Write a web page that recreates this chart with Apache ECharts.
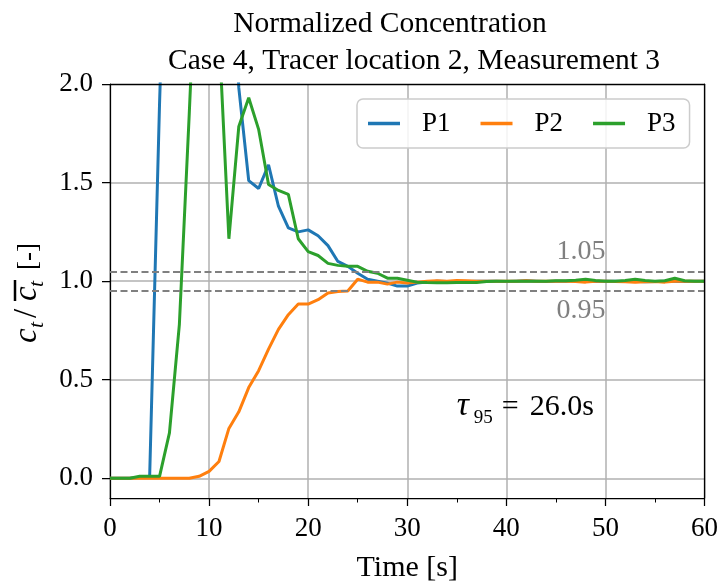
<!DOCTYPE html>
<html>
<head>
<meta charset="utf-8">
<script src="https://cdn.jsdelivr.net/npm/echarts@6/dist/echarts.min.js"></script>
<style>html,body{margin:0;padding:0;background:#fff;}#c{width:721px;height:588px;}</style>
</head>
<body>
<div id="c"></div>
<script>
// ---- data ----
const time = [0,1,2,3,4,5,6,7,8,9,10,11,12,13,14,15,16,17,18,19,20,21,22,23,24,25,26,27,28,29,30,
  31,32,33,34,35,36,37,38,39,40,41,42,43,44,45,46,47,48,49,50,51,52,53,54,55,56,57,58,59,60];
const p1 = [0,0,0,0.005,0.005,1.9,3.5,4.5,4.2,3.8,3.4,3.2,3.0,1.98,1.51,1.47,1.59,1.38,1.27,1.25,1.26,
  1.23,1.18,1.10,1.075,1.04,1.01,1.0,0.99,0.975,0.975,
  0.99,0.995,1.0,0.998,0.997,0.998,1.0,1.0,1.0,0.998,1.0,1.002,1.0,0.998,1.0,1.0,1.002,1.0,0.998,1.0,
  1.0,0.998,1.0,0.997,0.998,1.0,1.0,0.998,1.0,1.0];
const p2 = [0,0,0,0,0,0,0,0,0,0.01,0.035,0.085,0.253,0.337,0.46,0.546,0.655,0.755,0.83,0.884,0.884,
  0.906,0.94,0.948,0.95,1.01,0.995,0.995,0.985,0.995,0.99,
  0.995,1.0,1.002,1.0,1.003,1.002,1.0,1.0,1.0,1.0,1.0,1.002,1.0,1.0,1.0,1.0,0.998,0.995,1.0,1.0,
  0.998,0.997,0.995,0.997,0.998,0.995,1.0,1.0,1.0,1.0];
const p3 = [0,0,0,0.01,0.01,0.01,0.23,0.78,1.85,3.0,3.4,2.26,1.215,1.785,1.93,1.77,1.49,1.46,1.44,1.215,1.15,
  1.13,1.09,1.08,1.075,1.075,1.05,1.04,1.015,1.015,1.005,
  0.995,0.993,0.992,0.992,0.993,0.993,0.993,0.998,1.0,1.0,1.0,1.0,1.0,1.0,1.002,1.002,1.005,1.01,1.003,1.0,
  1.0,1.003,1.01,1.003,1.0,1.002,1.015,1.002,1.0,1.0];
const seriesNames = ['P1','P2','P3'];
const seriesColors = ['#1f77b4','#ff7f0e','#2ca02c'];
const yTicks = [0, 0.5, 1.0, 1.5, 2.0];
const refLines = [1.05, 0.95];
const tauValue = '26.0s';
const tauAnchor = [35, 0.36];
const refLabelX = 50;

const FONT = 'Liberation Serif';
const pair = (ys) => time.map((t, i) => [t, ys[i]]);
const allSeries = [p1, p2, p3];

const chart = echarts.init(document.getElementById('c'), null, {renderer: 'canvas'});

const series = allSeries.map((ys, k) => ({
  name: seriesNames[k],
  type: 'line',
  data: pair(ys),
  showSymbol: false,
  symbol: 'none',
  clip: true,
  lineStyle: {width: 3, color: seriesColors[k]},
  itemStyle: {color: seriesColors[k]},
  animation: false,
  xAxisIndex: 0, yAxisIndex: 0
}));

series[0].markLine = {
  silent: true,
  symbol: ['none', 'none'],
  label: {show: false},
  lineStyle: {type: [7, 3.5], color: '#808080', width: 2},
  data: refLines.map(v => ({yAxis: v}))
};

function txt(x, y, text, size, italic, color, align) {
  return {type: 'text', x: x, y: y, z: 20, style: {
    text: text, fontSize: size, fontFamily: FONT, fontStyle: italic ? 'italic' : 'normal',
    fill: color || '#000', align: align || 'left', verticalAlign: 'middle'}};
}

// y-axis title  c_t / overline(c_t) [-], laid out along the rotated baseline
const yLabelParts = [
  txt(0, -10, 'c', 33, true),
  txt(15, 0, 't', 22, true),
  txt(25, -10, '/', 33, false),
  txt(42, -10, 'c', 33, true),
  txt(56, 0, 't', 22, true),
  {type: 'line', shape: {x1: 42, y1: -22, x2: 63, y2: -22}, style: {stroke: '#000', lineWidth: 2.5}},
  txt(73, -8.4, '[-]', 27, false)
];

const option = {
  animation: false,
  backgroundColor: '#fff',
  textStyle: {fontFamily: FONT},
  title: [
    {text: 'Normalized Concentration', left: 385, top: 4, textAlign: 'center',
      textStyle: {fontFamily: FONT, fontSize: 29.5, fontWeight: 'normal', color: '#000'}},
    {text: 'Case 4, Tracer location 2, Measurement 3', left: 409, top: 41, textAlign: 'center',
      textStyle: {fontFamily: FONT, fontSize: 29.5, fontWeight: 'normal', color: '#000'}}
  ],
  legend: {
    data: seriesNames,
    left: 357, top: 99,
    orient: 'horizontal',
    icon: 'rect', itemWidth: 32, itemHeight: 3.5, itemGap: 30,
    padding: [11, 14, 11, 11],
    backgroundColor: 'rgba(255,255,255,0.85)',
    borderColor: '#cccccc', borderWidth: 1.5, borderRadius: 6,
    textStyle: {fontFamily: FONT, fontSize: 27, color: '#000', padding: [0, 0, 0, 17]}
  },
  grid: {left: 110, right: 15, top: 84, bottom: 84, containLabel: false},
  xAxis: [
    {type: 'value', min: 0, max: 60, interval: 10, position: 'bottom',
      axisLine: {show: true, onZero: false, lineStyle: {color: '#000', width: 1.25}},
      axisTick: {show: true, length: 8, lineStyle: {color: '#000', width: 1.25}},
      minorTick: {show: true, splitNumber: 2, length: 4.5, lineStyle: {color: '#000', width: 1}},
      splitLine: {show: true, lineStyle: {color: '#b0b0b0', width: 1.5}},
      axisLabel: {color: '#000', fontSize: 27, fontFamily: FONT, margin: 17},
      name: 'Time [s]', nameLocation: 'middle', nameGap: 55,
      nameTextStyle: {fontFamily: FONT, fontSize: 30, color: '#000'}},
    {type: 'value', min: 0, max: 60, position: 'top', z: 10,
      axisLine: {show: true, onZero: false, lineStyle: {color: '#000', width: 1.25}},
      axisTick: {show: false}, axisLabel: {show: false}, splitLine: {show: false}}
  ],
  yAxis: [
    {type: 'value', min: -0.1, max: 2.0, position: 'left',
      axisLine: {show: true, onZero: false, lineStyle: {color: '#000', width: 1.25}},
      axisTick: {show: true, length: 8, customValues: yTicks, lineStyle: {color: '#000', width: 1.25}},
      splitLine: {show: true, lineStyle: {color: '#b0b0b0', width: 1.5}},
      axisLabel: {color: '#000', fontSize: 27, fontFamily: FONT, margin: 17, customValues: yTicks,
        formatter: v => v.toFixed(1)}},
    {type: 'value', min: -0.1, max: 2.0, position: 'right', z: 10,
      axisLine: {show: true, onZero: false, lineStyle: {color: '#000', width: 1.25}},
      axisTick: {show: false}, axisLabel: {show: false}, splitLine: {show: false}}
  ],
  series: series
};
chart.setOption(option);

// annotations anchored through the axis scales
const toPx = (pt) => chart.convertToPixel({gridIndex: 0}, pt);
const tauPx = toPx(tauAnchor);
const hiPx = toPx([refLabelX, refLines[0]]);
const loPx = toPx([refLabelX, refLines[1]]);
const base = tauPx[1] + 9; // baseline of the tau text
chart.setOption({
  graphic: [
    {type: 'group', x: 37, y: 343, rotation: Math.PI / 2, children: yLabelParts},
    txt(hiPx[0], hiPx[1] - 20, refLines[0].toFixed(2), 28, false, '#808080', 'right'),
    txt(loPx[0], loPx[1] + 20, refLines[1].toFixed(2), 28, false, '#808080', 'right'),
    {type: 'group', x: tauPx[0], y: base, z: 20, children: [
      txt(0, -10, 'τ', 34, true),
      txt(17, 2, '95', 19, false),
      txt(45, -9, '=', 30, false),
      txt(73, -9, tauValue, 30, false)
    ]}
  ]
});
</script>
</body>
</html>
